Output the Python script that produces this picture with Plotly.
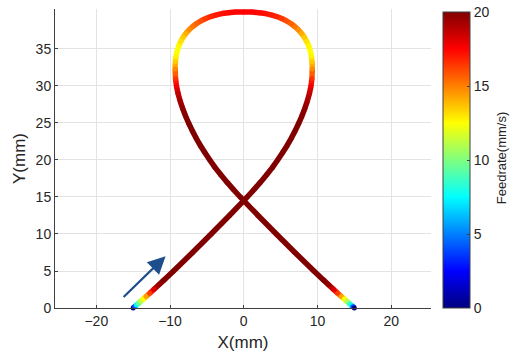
import plotly.graph_objects as go

# Tool path (mm), in travel order: start (-15,0) -> crossing -> loop -> (15,0)
path_x = [-15.0, -14.8, -14.55, -14.3, -14.0, -13.65, -13.25, -12.75, -12.2, -11.5, -10.8,
          -9.52, -6.94, -4.42, -1.94, 0.0, 0.47, 1.39, 2.27, 3.11, 3.90, 4.60, 5.28, 5.91, 6.48,
          7.0, 7.48, 7.915, 8.30, 8.635, 8.915, 9.125, 9.25, 9.3, 9.27, 9.18, 9.03, 8.82, 8.55,
          8.23, 7.85, 7.41, 6.92, 6.39, 5.79, 5.16, 4.47, 3.73, 2.94, 2.10, 1.17, 0.0,
          -1.17, -2.10, -2.94, -3.73, -4.47, -5.16, -5.79, -6.39, -6.92, -7.41, -7.85, -8.23,
          -8.55, -8.82, -9.03, -9.18, -9.27, -9.3, -9.25, -9.125, -8.915, -8.635, -8.30, -7.915,
          -7.48, -7.0, -6.48, -5.91, -5.28, -4.60, -3.90, -3.11, -2.27, -1.39, -0.47, 0.0,
          1.94, 4.42, 6.94, 9.52, 10.8, 11.5, 12.2, 12.75, 13.25, 13.65, 14.0, 14.3, 14.55, 14.8, 15.0]
path_y = [0.0, 0.18, 0.4, 0.62, 0.9, 1.2, 1.56, 2.0, 2.5, 3.15, 3.8,
          5.0, 7.5, 10.0, 12.5, 14.5, 15.0, 16.0, 17.0, 18.0, 19.0, 20.0, 21.0, 22.0, 23.0,
          24.0, 25.0, 26.0, 27.0, 28.0, 29.0, 30.0, 31.0, 32.3, 33.26, 34.03, 34.74, 35.39, 36.0,
          36.57, 37.10, 37.59, 38.03, 38.44, 38.80, 39.11, 39.38, 39.60, 39.78, 39.90, 39.98, 40.0,
          39.98, 39.90, 39.78, 39.60, 39.38, 39.11, 38.80, 38.44, 38.03, 37.59, 37.10, 36.57,
          36.0, 35.39, 34.74, 34.03, 33.26, 32.3, 31.0, 30.0, 29.0, 28.0, 27.0, 26.0,
          25.0, 24.0, 23.0, 22.0, 21.0, 20.0, 19.0, 18.0, 17.0, 16.0, 15.0, 14.5,
          12.5, 10.0, 7.5, 5.0, 3.8, 3.15, 2.5, 2.0, 1.56, 1.2, 0.9, 0.62, 0.4, 0.18, 0.0]
feedrate = [0.0, 4.0, 7.5, 9.3, 11.0, 12.5, 14.3, 16.3, 18.2, 19.6, 20.0,
            20.0, 20.0, 20.0, 20.0, 20.0, 20.0, 20.0, 20.0, 20.0, 20.0, 20.0, 20.0, 20.0, 20.0,
            20.0, 20.0, 19.9, 19.7, 19.3, 18.7, 17.8, 16.5, 14.8, 13.5, 12.7, 12.4, 12.6, 13.0,
            13.5, 14.1, 14.7, 15.2, 15.6, 16.0, 16.4, 16.8, 17.0, 17.2, 17.35, 17.45, 17.5,
            17.45, 17.35, 17.2, 17.0, 16.8, 16.4, 16.0, 15.6, 15.2, 14.7, 14.1, 13.5,
            13.0, 12.6, 12.4, 12.7, 13.5, 14.8, 16.5, 17.8, 18.7, 19.3, 19.7, 19.9,
            20.0, 20.0, 20.0, 20.0, 20.0, 20.0, 20.0, 20.0, 20.0, 20.0, 20.0, 20.0,
            20.0, 20.0, 20.0, 20.0, 20.0, 19.6, 18.2, 16.3, 14.3, 12.5, 11.0, 9.3, 7.5, 4.0, 0.0]

cbar_ticks = [0, 5, 10, 15, 20]
x_ticks = [-20, -10, 0, 10, 20]
y_ticks = [0, 5, 10, 15, 20, 25, 30, 35]

# MATLAB jet colormap
jet_stops = [(0.0, (0, 0, 128)), (0.125, (0, 0, 255)), (0.375, (0, 255, 255)),
             (0.625, (255, 255, 0)), (0.875, (255, 0, 0)), (1.0, (128, 0, 0))]
jet_scale = [[p, "rgb(%d,%d,%d)" % c] for p, c in jet_stops]
fmin, fmax = cbar_ticks[0], cbar_ticks[-1]


def jet_color(v):
    t = min(max((v - fmin) / (fmax - fmin), 0.0), 1.0)
    for (p0, c0), (p1, c1) in zip(jet_stops[:-1], jet_stops[1:]):
        if t <= p1:
            f = (t - p0) / (p1 - p0) if p1 > p0 else 0
            c = [round(a + (b - a) * f) for a, b in zip(c0, c1)]
            return "rgb(%d,%d,%d)" % tuple(c)
    return "rgb(128,0,0)"


fig = go.Figure()
for i in range(len(path_x) - 1):
    fig.add_trace(go.Scatter(
        x=[path_x[i], path_x[i + 1]], y=[path_y[i], path_y[i + 1]],
        mode="lines", line=dict(color=jet_color((feedrate[i] + feedrate[i + 1]) / 2), width=5.5),
        showlegend=False, hoverinfo="skip"))
# round joints
fig.add_trace(go.Scatter(
    x=path_x, y=path_y, mode="markers",
    marker=dict(size=5, color=[jet_color(v) for v in feedrate], line=dict(width=0)),
    showlegend=False, hoverinfo="skip", cliponaxis=False))

# colorbar carrier
fig.add_trace(go.Scatter(
    x=[path_x[0], path_x[0]], y=[path_y[0], path_y[0]], mode="markers",
    marker=dict(size=0.1, opacity=0, color=[fmin, fmax], colorscale=jet_scale, cmin=fmin, cmax=fmax,
                showscale=True,
                colorbar=dict(x=1.032, xanchor="left", y=0, yanchor="bottom", len=0.99, lenmode="fraction",
                              thickness=27, xpad=0, ypad=0, outlinewidth=1, outlinecolor="#404040",
                              tickvals=cbar_ticks, ticks="inside", ticklen=3, tickcolor="#404040",
                              tickfont=dict(size=14, color="#262626"))),
    showlegend=False, hoverinfo="skip"))

fig.add_annotation(x=1.188, y=0.5, xref="paper", yref="paper", text="Feedrate(mm/s)", textangle=-90,
                   showarrow=False, xanchor="center", yanchor="middle",
                   font=dict(size=13, color="#262626"))

fig.add_annotation(x=-10.6, y=7.0, ax=-16.5, ay=1.3, xref="x", yref="y", axref="x", ayref="y",
                   text="", showarrow=True, arrowhead=2, arrowsize=1.6, arrowwidth=2.2,
                   arrowcolor="#1f4e8c", standoff=0)

axis_common = dict(showgrid=True, gridcolor="#e3e3e3", gridwidth=1, showline=True, linecolor="#404040",
                   linewidth=1, ticks="inside", ticklen=3, tickcolor="#404040", zeroline=False,
                   tickfont=dict(size=14, color="#262626"), mirror=False)
fig.update_xaxes(range=[-25.6, 25.4], tickvals=x_ticks, **axis_common,
                 title=dict(text="X(mm)", font=dict(size=17, color="#262626"), standoff=8))
fig.update_yaxes(range=[0, 40.4], tickvals=y_ticks, **axis_common,
                 title=dict(text="Y(mm)", font=dict(size=17, color="#262626"), standoff=5))

fig.update_layout(width=512, height=363, margin=dict(l=55, r=81, t=9, b=55),
                  plot_bgcolor="white", paper_bgcolor="white",
                  font=dict(family="Liberation Sans, Arial, sans-serif", color="#262626"))
fig.write_html("out.html")
